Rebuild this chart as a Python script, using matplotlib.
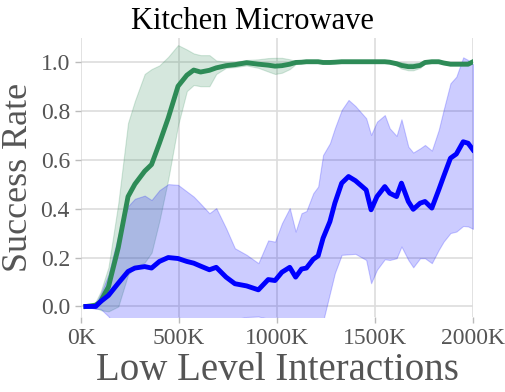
import numpy as np
import matplotlib
matplotlib.use("Agg")
import matplotlib.pyplot as plt

# interactions, in thousands
steps = [25, 75, 100, 140, 190, 240, 275, 325, 360, 400, 445, 495, 540, 575, 610,
         655, 690, 740, 785, 845, 905, 955, 990, 1025, 1065, 1095, 1125, 1150, 1185, 1210,
         1235, 1270, 1295, 1330, 1365, 1400, 1455, 1480, 1510, 1550, 1575, 1610, 1635, 1670, 1695,
         1730, 1755, 1790, 1825, 1850, 1885, 1915, 1950, 1975, 2000]

# green method
green_mean = [0.0, 0.005, 0.02, 0.08, 0.24, 0.449, 0.5, 0.553, 0.58, 0.667, 0.77, 0.9, 0.945, 0.966, 0.958,
              0.965, 0.975, 0.984, 0.988, 0.996, 0.99, 0.986, 0.982, 0.984, 0.99, 0.997, 0.998, 1.0, 1.0, 1.0,
              0.997, 0.997, 0.998, 1.0, 1.0, 1.0, 1.0, 1.0, 1.0, 1.0, 0.998, 0.992, 0.985, 0.98, 0.98,
              0.985, 0.997, 1.0, 1.0, 0.995, 0.99, 0.99, 0.99, 0.99, 1.0]
green_upper = [0.0, 0.02, 0.06, 0.16, 0.42, 0.75, 0.84, 0.95, 0.97, 0.985, 1.02, 1.068, 1.05, 1.034, 1.027,
               1.027, 1.005, 1.0, 1.0, 1.007, 1.01, 1.015, 1.016, 1.016, 1.01, 1.003, 1.002, 1.002, 1.0, 1.0,
               1.0, 1.0, 1.0, 1.0, 1.0, 1.0, 1.0, 1.0, 1.0, 1.0, 1.0, 1.0, 0.998, 0.995, 0.995,
               0.997, 1.0, 1.0, 1.0, 1.0, 0.995, 0.995, 0.995, 0.995, 1.0]
green_lower = [0.0, -0.005, -0.015, -0.02, 0.0, 0.13, 0.16, 0.18, 0.22, 0.35, 0.52, 0.74, 0.88, 0.905, 0.9,
               0.9, 0.95, 0.975, 0.978, 0.985, 0.975, 0.96, 0.95, 0.955, 0.97, 0.99, 0.995, 0.998, 1.0, 1.0,
               0.995, 0.995, 0.996, 1.0, 1.0, 1.0, 1.0, 1.0, 1.0, 1.0, 0.995, 0.985, 0.972, 0.965, 0.965,
               0.975, 0.993, 1.0, 1.0, 0.99, 0.985, 0.985, 0.985, 0.985, 1.0]

# blue method
blue_mean = [0.0, 0.0, 0.02, 0.045, 0.095, 0.143, 0.157, 0.163, 0.157, 0.184, 0.2, 0.196, 0.184, 0.177, 0.165,
             0.15, 0.16, 0.12, 0.093, 0.084, 0.068, 0.11, 0.106, 0.14, 0.16, 0.12, 0.153, 0.157, 0.193, 0.207,
             0.279, 0.347, 0.422, 0.504, 0.531, 0.514, 0.476, 0.395, 0.449, 0.49, 0.463, 0.449, 0.504, 0.429, 0.397,
             0.422, 0.429, 0.402, 0.476, 0.531, 0.606, 0.623, 0.673, 0.667, 0.64]
blue_upper = [0.0, 0.01, 0.05, 0.13, 0.29, 0.41, 0.44, 0.453, 0.435, 0.475, 0.5, 0.497, 0.47, 0.449, 0.42,
              0.381, 0.402, 0.32, 0.238, 0.211, 0.177, 0.27, 0.265, 0.34, 0.402, 0.306, 0.381, 0.39, 0.463, 0.49,
              0.619, 0.667, 0.728, 0.803, 0.844, 0.819, 0.769, 0.701, 0.755, 0.782, 0.728, 0.697, 0.765, 0.653, 0.629,
              0.646, 0.66, 0.637, 0.721, 0.803, 0.912, 0.939, 1.018, 1.007, 0.99]
blue_lower = [0.0, -0.01, -0.01, -0.04, -0.1, -0.12, -0.13, -0.13, -0.12, -0.11, -0.1, -0.1, -0.1, -0.095, -0.09,
              -0.08, -0.08, -0.08, -0.052, -0.043, -0.041, -0.05, -0.053, -0.06, -0.08, -0.066, -0.075, -0.076, -0.077, -0.076,
              -0.061, 0.054, 0.136, 0.211, 0.213, 0.215, 0.19, 0.095, 0.15, 0.193, 0.19, 0.197, 0.245, 0.19, 0.16,
              0.197, 0.197, 0.177, 0.231, 0.265, 0.3, 0.306, 0.329, 0.327, 0.317]

xtick_vals = [0, 500, 1000, 1500, 2000]
xtick_labels = ["0K", "500K", "1000K", "1500K", "2000K"]
ytick_vals = [0.0, 0.2, 0.4, 0.6, 0.8, 1.0]

plt.rcParams['font.family'] = ['Liberation Serif', 'DejaVu Serif']

fig = plt.figure(figsize=(5.05, 3.92), dpi=100)
ax = fig.add_axes([81 / 505, 1 - 317 / 392, 392 / 505, 279 / 392])

green = "#2e8b57"
blue = "#0000ff"

ax.fill_between(steps, green_lower, green_upper, color=green, alpha=0.2, linewidth=0.8)
ax.plot(steps, green_mean, color=green, linewidth=3.5)
ax.fill_between(steps, blue_lower, blue_upper, color=blue, alpha=0.2, linewidth=0.8)
ax.plot(steps, blue_mean, color=blue, linewidth=3.5)

ax.set_xlim(0, 2000)
ax.set_ylim(-0.043, 1.097)
ax.set_xticks(xtick_vals)
ax.set_xticklabels(xtick_labels)
ax.set_yticks(ytick_vals)
ax.set_yticklabels(["%.1f" % v for v in ytick_vals])

ax.grid(True, color="#dddddd", linewidth=1.2)
ax.set_axisbelow(True)
for s in ax.spines.values():
    s.set_visible(False)
ax.tick_params(axis="both", colors="#555555", labelsize=17, length=4, width=1, pad=4)
ax.tick_params(axis="x", color="#bbbbbb")
ax.tick_params(axis="y", color="#bbbbbb")

ax.set_xlabel("Low Level Interactions", fontsize=28, color="#555555", labelpad=2)
ax.set_ylabel("Success Rate", fontsize=26, color="#555555", labelpad=4)
fig.text(0.5, 1 - 29 / 392, "Kitchen Microwave", ha="center", va="baseline",
         fontsize=22, color="black")

fig.savefig("out.png", dpi=100)
